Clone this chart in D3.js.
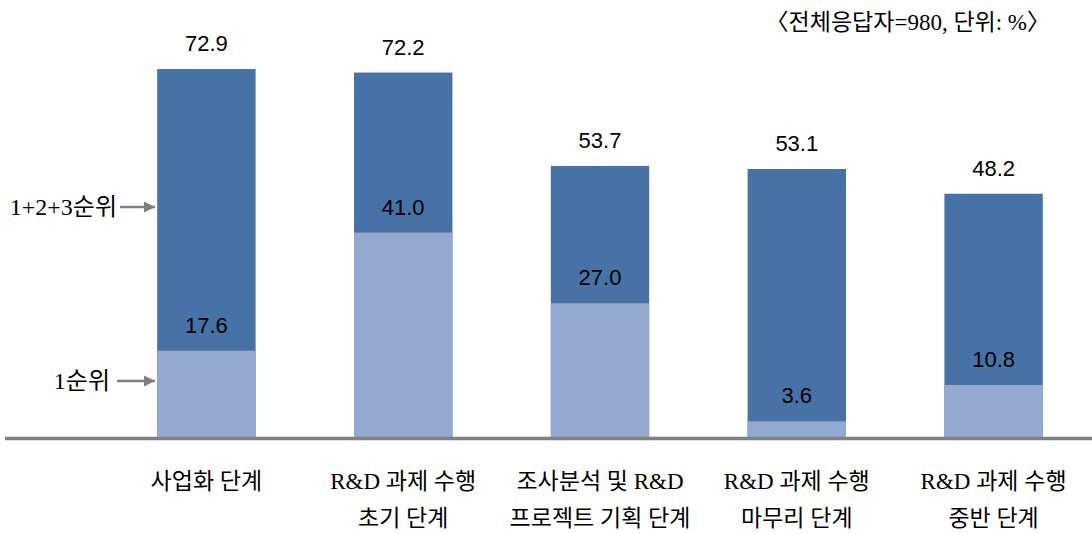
<!DOCTYPE html>
<html>
<head>
<meta charset="utf-8">
<script src="https://cdn.jsdelivr.net/npm/d3@7"></script>
<style>
  body { margin: 0; background: #fff; }
</style>
</head>
<body>
<script>
// chart data
const categories = ['사업화 단계', 'R&D 과제 수행|초기 단계', '조사분석 및 R&D|프로젝트 기획 단계', 'R&D 과제 수행|마무리 단계', 'R&D 과제 수행|중반 단계'];
const top3 = [72.9, 72.2, 53.7, 53.1, 48.2];
const first = [17.6, 41.0, 27.0, 3.6, 10.8];
const seriesNames = ['1+2+3순위', '1순위'];
const note = '〈전체응답자=980, 단위: %〉';

var width = 1092, height = 534;
var serif = '"Liberation Serif", "Noto Sans CJK KR", serif';
var sans = '"Liberation Sans", "Noto Sans CJK KR", sans-serif';

var svg = d3.select("body")
    .append("svg")
    .attr("width", width)
    .attr("height", height);

var x = d3.scaleBand()
    .domain(categories)
    .range([108, 1092])
    .paddingInner(0.5)
    .paddingOuter(0.25);

var y = d3.scaleLinear()
    .domain([0, 80])
    .range([437, 33.2]);

// the 1순위 series sits on its own (secondary) axis, offset a little lower
var y2 = d3.scaleLinear()
    .domain([0, 80])
    .range([439.5, 35.7]);

// dark bars (1+2+3순위)
svg.selectAll(".dark")
    .data(top3)
    .enter().append("rect")
    .attr("x", (d, i) => x(categories[i]))
    .attr("y", d => y(d))
    .attr("width", x.bandwidth())
    .attr("height", d => y(0) - y(d))
    .attr("fill", "#4672A5");

// light bars (1순위) drawn over the dark ones
svg.selectAll(".light")
    .data(first)
    .enter().append("rect")
    .attr("x", (d, i) => x(categories[i]))
    .attr("y", d => y2(d))
    .attr("width", x.bandwidth())
    .attr("height", d => y(0) - y2(d))
    .attr("fill", "#94A9D0");

// value labels
function addLabels(values, scale) {
    svg.selectAll(null)
        .data(values)
        .enter().append("text")
        .attr("x", (d, i) => x(categories[i]) + x.bandwidth() / 2)
        .attr("y", d => scale(d) - 18)
        .attr("text-anchor", "middle")
        .style("font-family", sans)
        .style("font-size", "22px")
        .style("fill", "#000")
        .text(d => d.toFixed(1));
}
addLabels(top3, y);
addLabels(first, y2);

// baseline
svg.append("line")
    .attr("x1", 5).attr("x2", 1092)
    .attr("y1", y(0) + 1.5).attr("y2", y(0) + 1.5)
    .attr("stroke", "#808080")
    .attr("stroke-width", 3.5);

// category labels
categories.forEach(function (c, i) {
    var lines = c.split('|');
    var t = svg.append("text")
        .attr("x", x(c) + x.bandwidth() / 2)
        .attr("y", 489)
        .attr("text-anchor", "middle")
        .style("font-family", serif)
        .style("font-size", "23px")
        .style("fill", "#000");
    lines.forEach(function (l, j) {
        t.append("tspan")
            .attr("x", x(c) + x.bandwidth() / 2)
            .attr("dy", j === 0 ? 0 : 37)
            .text(l);
    });
});

// series annotations with arrows
svg.append("defs").append("marker")
    .attr("id", "arrow")
    .attr("viewBox", "0 0 10 10")
    .attr("refX", 10).attr("refY", 5)
    .attr("markerWidth", 4.5).attr("markerHeight", 4.5)
    .attr("markerUnits", "strokeWidth")
    .attr("orient", "auto")
    .append("path")
    .attr("d", "M0,0 L10,5 L0,10 z")
    .attr("fill", "#808080");

var annot = [
    { name: seriesNames[0], yy: 207, tx: 117, ax: 120 },
    { name: seriesNames[1], yy: 381, tx: 110, ax: 117 }
];
annot.forEach(function (a) {
    svg.append("text")
        .attr("x", a.tx)
        .attr("y", a.yy + 8)
        .attr("text-anchor", "end")
        .style("font-family", serif)
        .style("font-size", "24px")
        .text(a.name);
    svg.append("line")
        .attr("x1", a.ax).attr("x2", 155)
        .attr("y1", a.yy).attr("y2", a.yy)
        .attr("stroke", "#808080")
        .attr("stroke-width", 2.5)
        .attr("marker-end", "url(#arrow)");
});

// note, top right
svg.append("text")
    .attr("x", 1050)
    .attr("y", 30)
    .attr("text-anchor", "end")
    .style("font-family", serif)
    .style("font-size", "23px")
    .text(note);
</script>
</body>
</html>
